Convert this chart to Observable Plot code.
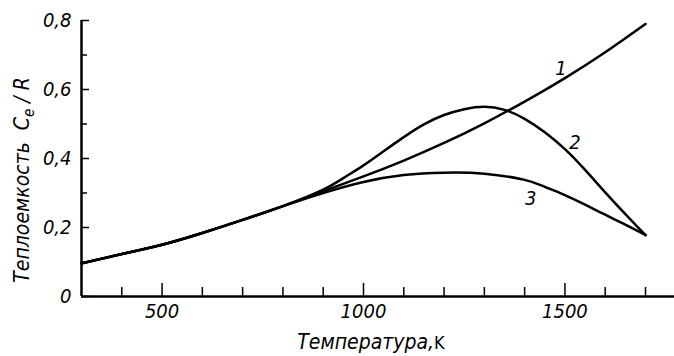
<!DOCTYPE html>
<html>
<head>
<meta charset="utf-8">
<script src="https://cdn.jsdelivr.net/npm/d3@7"></script>
<script src="https://cdn.jsdelivr.net/npm/@observablehq/plot@0.6"></script>
<style>
  html, body { margin: 0; padding: 0; background: #fff; }
  #chart svg { display: block; }
  #chart text { font-family: "DejaVu Sans Condensed", "DejaVu Sans", sans-serif; font-style: italic; }
</style>
</head>
<body>
<div id="chart"></div>
<script>
// Temperature (K) and heat capacity Ce/R for curves 1, 2, 3
const T1 = [300, 400, 500, 600, 700, 800, 900, 1000, 1100, 1200, 1300, 1400, 1500, 1600, 1700];
const C1 = [0.096, 0.123, 0.150, 0.184, 0.222, 0.262, 0.305, 0.348, 0.394, 0.445, 0.502, 0.565, 0.633, 0.708, 0.790];

const T2 = [300, 400, 500, 600, 700, 800, 900, 950, 1000, 1050, 1100, 1150, 1200, 1250, 1300, 1350, 1400, 1450, 1500, 1550, 1600, 1650, 1700];
const C2 = [0.096, 0.123, 0.150, 0.184, 0.222, 0.262, 0.310, 0.343, 0.380, 0.421, 0.462, 0.499, 0.526, 0.543, 0.550, 0.541, 0.515, 0.476, 0.427, 0.367, 0.302, 0.239, 0.178];

const T3 = [300, 400, 500, 600, 700, 800, 900, 1000, 1100, 1200, 1300, 1400, 1450, 1500, 1550, 1600, 1650, 1700];
const C3 = [0.096, 0.123, 0.150, 0.184, 0.222, 0.262, 0.300, 0.332, 0.352, 0.359, 0.356, 0.338, 0.318, 0.294, 0.266, 0.237, 0.208, 0.178];

const curveLabels = ["1", "2", "3"];
const labelT = [1490, 1525, 1415];
const labelC = [0.662, 0.445, 0.283];

const xMajorTicks = [500, 1000, 1500];
const xMinorTicks = [400, 600, 700, 800, 900, 1100, 1200, 1300, 1400, 1600, 1700];
const yMajorTicks = [0, 0.2, 0.4, 0.6, 0.8];
const yMinorTicks = [0.1, 0.3, 0.5, 0.7];

const xTitle = "Температура,";
const xUnit = "K";
const yTitle = "Теплоемкость";

const series = [
  ...T1.map((t, i) => ({curve: "1", T: t, C: C1[i]})),
  ...T2.map((t, i) => ({curve: "2", T: t, C: C2[i]})),
  ...T3.map((t, i) => ({curve: "3", T: t, C: C3[i]}))
];
const labels = curveLabels.map((s, i) => ({s, T: labelT[i], C: labelC[i]}));
const fmtY = d => d === 0 ? "0" : d3.format(".1f")(d).replace(".", ",");
const fmtX = d => String(d);

const plot = Plot.plot({
  width: 674,
  height: 356,
  marginLeft: 81,
  marginTop: 20,
  marginBottom: 60,
  marginRight: 0,
  style: {fontSize: "20px", fontFamily: "DejaVu Sans Condensed", fontStyle: "italic"},
  x: {domain: [300, 1772], label: null},
  y: {domain: [0, 0.8], label: null},
  marks: [
    Plot.axisX(xMinorTicks, {tickSize: -9, text: null, strokeWidth: 1.5}),
    Plot.axisX(xMajorTicks, {tickSize: -13, text: null, strokeWidth: 1.5}),
    Plot.axisX(xMajorTicks, {tickSize: 0, tickPadding: 7, tickFormat: fmtX, fontSize: 20}),
    Plot.axisY(yMinorTicks, {tickSize: -6, text: null, strokeWidth: 1.5}),
    Plot.axisY(yMajorTicks, {tickSize: -8, text: null, strokeWidth: 1.5}),
    Plot.axisY(yMajorTicks, {tickSize: 0, tickPadding: 10, tickFormat: fmtY, fontSize: 20}),
    Plot.ruleY([0], {strokeWidth: 2.5}),
    Plot.ruleX([300], {strokeWidth: 2.5}),
    Plot.line(series, {x: "T", y: "C", z: "curve", curve: "natural", stroke: "black", strokeWidth: 2.5}),
    Plot.text(labels, {x: "T", y: "C", text: "s", fontSize: 20, fill: "black"})
  ]
});

const svg = d3.select(plot);
// x-axis title
const xt = svg.append("text")
  .attr("x", 371).attr("y", 349)
  .attr("text-anchor", "middle")
  .style("font-size", "21px").style("font-style", "italic");
xt.append("tspan").text(xTitle);
xt.append("tspan").style("font-style", "normal").style("font-size", "18px").text(xUnit);

// y-axis title with subscript
const yt = svg.append("text")
  .attr("transform", "translate(29,180) rotate(-90)")
  .attr("text-anchor", "middle")
  .style("font-size", "21px").style("font-style", "italic");
yt.append("tspan").text(yTitle + "  C");
yt.append("tspan").attr("dy", 5).style("font-size", "15px").text("e");
yt.append("tspan").attr("dy", -5).text(" / R");

document.getElementById("chart").appendChild(plot);
</script>
</body>
</html>
